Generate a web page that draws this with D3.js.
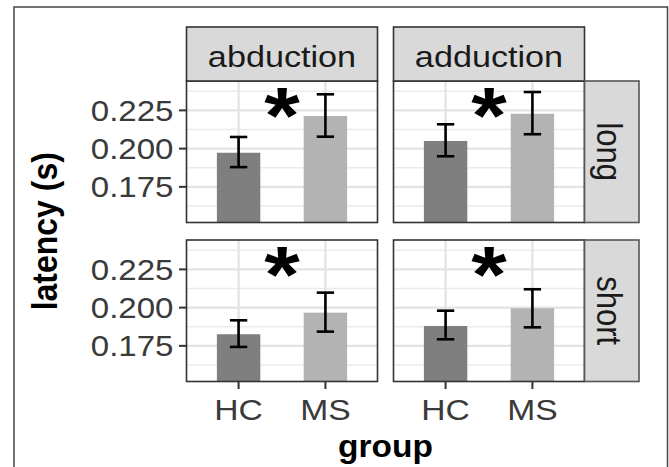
<!DOCTYPE html>
<html>
<head>
<meta charset="utf-8">
<script src="https://cdn.jsdelivr.net/npm/d3@7"></script>
<style>
  html, body { margin: 0; padding: 0; background: #fff; }
  svg { display: block; }
  text { font-family: "Liberation Sans", Arial, Helvetica, sans-serif; }
</style>
</head>
<body>
<svg id="chart" width="669" height="467"></svg>
<script>
// ---------- data ----------
const directions = ["abduction", "adduction"];   // facet columns
const durations  = ["long", "short"];            // facet rows
const groups     = ["HC", "MS"];                 // x categories
// panel order: abduction-long, adduction-long, abduction-short, adduction-short
const hcMean  = [0.1973, 0.2050, 0.1826, 0.1880];
const hcLower = [0.1879, 0.1950, 0.1743, 0.1793];
const hcUpper = [0.2076, 0.2159, 0.1917, 0.1980];
const msMean  = [0.2213, 0.2228, 0.1967, 0.1996];
const msLower = [0.2078, 0.2094, 0.1843, 0.1871];
const msUpper = [0.2355, 0.2370, 0.2098, 0.2120];
const sigLabel = ["*", "*", "*", "*"];
const sigY     = [0.2323, 0.2323, 0.2322, 0.2322];
const yTicks   = [0.175, 0.200, 0.225];
const yMinorTicks = [0.1625, 0.1875, 0.2125, 0.2375];
const yDomain  = [0.1517, 0.2442];
const yTitle = "latency (s)";
const xTitle = "group";

// ---------- layout ----------
const svg = d3.select("#chart");
const colX = [186.5, 393.5];
const rowY = [81, 240];
const panelW = 191, panelH = 141.5;
const stripH = 54, stripW = 54.5;
const sx = 1.14; // horizontal text stretch
const barColors = { HC: "#7f7f7f", MS: "#b3b3b3" };

svg.append("rect").attr("x", 0).attr("y", 0).attr("width", 669).attr("height", 467).attr("fill", "#fff");
// outer figure border
svg.append("rect").attr("x", 14).attr("y", 7).attr("width", 653.5).attr("height", 520)
  .attr("fill", "none").attr("stroke", "#444").attr("stroke-width", 1.5);

const x = d3.scalePoint().domain(groups).range([0, panelW]).padding(0.6);
const step = x.step();
const barW = step * 0.5;
const capW = step * 0.2;
const y = d3.scaleLinear().domain(yDomain).range([panelH, 0]);

function stretchedText(g, tx, ty, txt, size, weight, anchor, rot, fill) {
  return g.append("text")
    .attr("transform", `translate(${tx},${ty}) scale(${sx},1)` + (rot ? ` rotate(${rot})` : ""))
    .attr("text-anchor", anchor)
    .attr("font-size", size)
    .attr("font-weight", weight)
    .attr("fill", fill || "#1a1a1a")
    .text(txt);
}

durations.forEach((dur, r) => {
  directions.forEach((dir, c) => {
    const i = r * 2 + c;
    const g = svg.append("g").attr("transform", `translate(${colX[c]},${rowY[r]})`);
    g.append("rect").attr("width", panelW).attr("height", panelH).attr("fill", "#fff");
    // minor grid
    g.selectAll(".minor").data(yMinorTicks).enter().append("line")
      .attr("x1", 0).attr("x2", panelW)
      .attr("y1", d => y(d)).attr("y2", d => y(d))
      .attr("stroke", "#ebebeb").attr("stroke-width", 1.3);
    // major grid
    g.selectAll(".major").data(yTicks).enter().append("line")
      .attr("x1", 0).attr("x2", panelW)
      .attr("y1", d => y(d)).attr("y2", d => y(d))
      .attr("stroke", "#e3e3e3").attr("stroke-width", 2.3);
    g.selectAll(".vmajor").data(groups).enter().append("line")
      .attr("x1", d => x(d)).attr("x2", d => x(d))
      .attr("y1", 0).attr("y2", panelH)
      .attr("stroke", "#e3e3e3").attr("stroke-width", 2.3);

    const rows = [
      { grp: "HC", mean: hcMean[i], lo: hcLower[i], hi: hcUpper[i] },
      { grp: "MS", mean: msMean[i], lo: msLower[i], hi: msUpper[i] }
    ];
    g.selectAll(".bar").data(rows).enter().append("rect")
      .attr("x", d => x(d.grp) - barW / 2)
      .attr("width", barW)
      .attr("y", d => y(d.mean))
      .attr("height", d => panelH - y(d.mean))
      .attr("fill", d => barColors[d.grp]);
    const eb = g.selectAll(".eb").data(rows).enter().append("g").attr("stroke", "#000").attr("stroke-width", 2.6);
    eb.append("line").attr("x1", d => x(d.grp)).attr("x2", d => x(d.grp))
      .attr("y1", d => y(d.lo)).attr("y2", d => y(d.hi));
    eb.append("line").attr("x1", d => x(d.grp) - capW / 2).attr("x2", d => x(d.grp) + capW / 2)
      .attr("y1", d => y(d.lo)).attr("y2", d => y(d.lo));
    eb.append("line").attr("x1", d => x(d.grp) - capW / 2).attr("x2", d => x(d.grp) + capW / 2)
      .attr("y1", d => y(d.hi)).attr("y2", d => y(d.hi));
    // significance asterisk
    const midX = (x(groups[0]) + x(groups[1])) / 2;
    const aSize = 80;
    g.append("text")
      .attr("transform", `translate(${midX},${y(sigY[i]) + aSize * 0.55}) scale(${sx},1)`)
      .attr("text-anchor", "middle")
      .attr("font-size", aSize).attr("font-weight", "bold").attr("fill", "#000")
      .text(sigLabel[i]);
    // panel border
    g.append("rect").attr("width", panelW).attr("height", panelH)
      .attr("fill", "none").attr("stroke", "#333").attr("stroke-width", 1.6);

    if (c === 0) {
      const ya = g.append("g");
      yTicks.forEach(t => {
        ya.append("line").attr("x1", -7.5).attr("x2", 0).attr("y1", y(t)).attr("y2", y(t))
          .attr("stroke", "#333").attr("stroke-width", 2);
        stretchedText(ya, -13, y(t) + 10.4, d3.format(".3f")(t), 29, "normal", "end", null, "#3a3a3a");
      });
    }
    if (r === durations.length - 1) {
      groups.forEach(gr => {
        g.append("line").attr("x1", x(gr)).attr("x2", x(gr)).attr("y1", panelH).attr("y2", panelH + 7.5)
          .attr("stroke", "#333").attr("stroke-width", 2);
        stretchedText(g, x(gr), panelH + 38, gr, 29.5, "normal", "middle", null, "#3a3a3a");
      });
    }
    if (r === 0) {
      const s = svg.append("g").attr("transform", `translate(${colX[c]},${rowY[0] - stripH})`);
      s.append("rect").attr("width", panelW).attr("height", stripH)
        .attr("fill", "#d9d9d9").attr("stroke", "#333").attr("stroke-width", 1.6);
      stretchedText(s, panelW / 2, 39.5, dir, 30, "normal", "middle");
    }
    if (c === directions.length - 1) {
      const s = svg.append("g").attr("transform", `translate(${colX[c] + panelW},${rowY[r]})`);
      s.append("rect").attr("width", stripW).attr("height", panelH)
        .attr("fill", "#d9d9d9").attr("stroke", "#555").attr("stroke-width", 1.6);
      stretchedText(s, 12.5, panelH / 2, dur, 31, "normal", "middle", 90);
    }
  });
});

// axis titles
const plotCenterX = (colX[0] + colX[1] + panelW) / 2;
svg.append("text")
  .attr("transform", `translate(${plotCenterX},457) scale(1.08,1)`)
  .attr("text-anchor", "middle").attr("font-size", 31).attr("font-weight", "bold").attr("fill", "#000")
  .text(xTitle);
const plotCenterY = (rowY[0] + rowY[1] + panelH) / 2;
svg.append("text")
  .attr("transform", `translate(57,${plotCenterY}) scale(1.08,1) rotate(-90)`)
  .attr("text-anchor", "middle").attr("font-size", 32).attr("font-weight", "bold").attr("fill", "#000")
  .text(yTitle);
</script>
</body>
</html>
